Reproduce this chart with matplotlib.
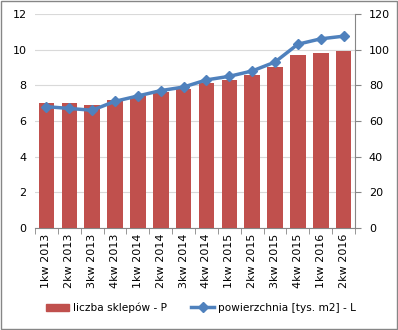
import matplotlib
matplotlib.use("Agg")
import matplotlib.pyplot as plt
import numpy as np
from matplotlib.patches import Rectangle

# ======================================================
# DATA
# ======================================================
quarters = ["1kw 2013", "2kw 2013", "3kw 2013", "4kw 2013",
            "1kw 2014", "2kw 2014", "3kw 2014", "4kw 2014",
            "1kw 2015", "2kw 2015", "3kw 2015", "4kw 2015",
            "1kw 2016", "2kw 2016"]
shops = [70, 70, 69, 72, 74, 76, 78, 81, 83, 86, 90, 97, 98, 99]          # right axis
area = [6.8, 6.7, 6.6, 7.1, 7.4, 7.7, 7.9, 8.3, 8.5, 8.8, 9.3, 10.3, 10.6, 10.75]  # left axis

bar_color = "#C0504D"
line_color = "#4F81BD"

plt.rcParams["font.family"] = ["DejaVu Sans"]

# ======================================================
# PLOT
# ======================================================
fig = plt.figure(figsize=(3.98, 3.30), dpi=100)
ax = fig.add_axes([0.088, 0.309, 0.804, 0.649])
ax2 = ax.twinx()

x = np.arange(len(quarters))

ax2.bar(x, shops, width=0.68, color=bar_color, zorder=2)
ax2.set_ylim(0, 120)
ax2.set_yticks(range(0, 121, 20))

ax.set_ylim(0, 12)
ax.set_yticks(range(0, 13, 2))
ax.set_xlim(-0.5, len(quarters) - 0.5)
ax.yaxis.grid(True, color="#D9D9D9", linewidth=0.8)
ax.set_axisbelow(True)

# line drawn on top of the bars
ax3 = ax.twinx()
ax3.set_ylim(0, 12)
ax3.axis("off")
ax3.plot(x, area, color=line_color, linewidth=2.5, marker="D",
         markersize=5.5, zorder=3)

ax.set_xticks(x)
ax.set_xticklabels(quarters, rotation=90, fontsize=8)
ax.set_xticks(np.arange(-0.5, len(quarters), 1), minor=True)
ax.tick_params(axis="x", which="major", length=0, pad=4)
ax.tick_params(axis="x", which="minor", length=4, color="#868686")
ax.tick_params(axis="y", length=0, labelsize=8, pad=6)
ax2.tick_params(axis="y", length=4, color="#868686", labelsize=8, pad=6)

for a in (ax, ax2, ax3):
    for s in ("top", "left", "right", "bottom"):
        a.spines[s].set_visible(False)
ax.spines["bottom"].set_visible(True)
ax.spines["bottom"].set_color("#868686")
ax2.spines["right"].set_visible(True)
ax2.spines["right"].set_color("#868686")

# legend
h1 = plt.Rectangle((0, 0), 1, 1, color=bar_color)
h2 = plt.Line2D([], [], color=line_color, linewidth=2.5, marker="D", markersize=5)
fig.legend([h1, h2], ["liczba sklepów - P", "powierzchnia [tys. m2] - L"],
           loc="center", bbox_to_anchor=(0.505, 0.067), ncol=2, frameon=False,
           fontsize=7.6, handlelength=2.2, columnspacing=2.3, handletextpad=0.35)

# outer border
fig.patches.append(Rectangle((0.002, 0.003), 0.995, 0.994, transform=fig.transFigure,
                             fill=False, edgecolor="#868686", linewidth=1))

fig.savefig("out.png", dpi=100)
